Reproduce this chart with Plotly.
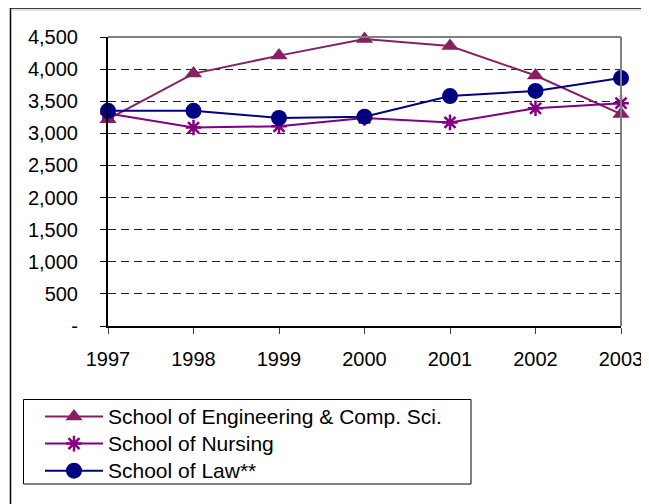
import plotly.graph_objects as go

years = [1997, 1998, 1999, 2000, 2001, 2002, 2003]
engineering = [3220, 3930, 4210, 4470, 4360, 3900, 3300]
nursing = [3310, 3090, 3110, 3240, 3170, 3390, 3470]
law = [3350, 3350, 3240, 3260, 3580, 3660, 3860]
series_names = ["School of Engineering & Comp. Sci.", "School of Nursing", "School of Law**"]
y_tickvals = [0, 500, 1000, 1500, 2000, 2500, 3000, 3500, 4000, 4500]
y_ticktext = ["-", "500", "1,000", "1,500", "2,000", "2,500", "3,000", "3,500", "4,000", "4,500"]

FONT = "Liberation Sans, Arial, sans-serif"
OFF = 8  # page body margin
W, H = 649 - OFF, 504 - OFF
L, R, T, B = 108 - OFF, 28, 37 - OFF, 178
pw, ph = W - L - R, H - T - B


def px(x):
    return (x - OFF - L) / pw


def py(y):
    return (H - B - (y - OFF)) / ph


def big(s):
    return '<span style="font-size:21px">' + s + '</span>'


fig = go.Figure()
fig.add_trace(go.Scatter(
    x=years, y=engineering, name=big(series_names[0]), mode="lines+markers",
    line=dict(color="#862063", width=2),
    marker=dict(symbol="triangle-up", size=15, color="#862063"),
    cliponaxis=False))
fig.add_trace(go.Scatter(
    x=years, y=nursing, name=big(series_names[1]), mode="lines+markers",
    line=dict(color="#800080", width=2),
    marker=dict(symbol="asterisk", size=13, color="#800080",
                line=dict(color="#800080", width=2.5)),
    cliponaxis=False))
fig.add_trace(go.Scatter(
    x=years, y=law, name=big(series_names[2]), mode="lines+markers",
    line=dict(color="#000080", width=2),
    marker=dict(symbol="circle", size=16, color="#000080"),
    cliponaxis=False))

shapes = [
    dict(type="rect", xref="paper", yref="paper",
         x0=px(10.5), x1=px(700), y0=py(8), y1=py(560),
         line=dict(color="black", width=1.5), layer="below"),
    dict(type="line", xref="paper", yref="paper",
         x0=px(11), x1=px(700), y0=py(10), y1=py(10),
         line=dict(color="#c8c8c8", width=1), layer="below"),
    dict(type="line", xref="paper", yref="paper", x0=0, x1=1, y0=1, y1=1,
         line=dict(color="#808080", width=2)),
    dict(type="line", xref="paper", yref="paper", x0=1, x1=1, y0=0, y1=1,
         line=dict(color="#808080", width=2)),
    dict(type="rect", xref="paper", yref="paper",
         x0=px(23.5), x1=px(471), y0=py(399.5), y1=py(484),
         line=dict(color="black", width=1)),
]

fig.update_layout(
    width=W, height=H,
    margin=dict(l=L, r=R, t=T, b=B, autoexpand=False),
    paper_bgcolor="white", plot_bgcolor="white",
    font=dict(family=FONT, size=20, color="black"),
    showlegend=True,
    legend=dict(x=px(40), y=py(398), xanchor="left", yanchor="top",
                font=dict(family=FONT, size=18.5, color="black"),
                bgcolor="rgba(0,0,0,0)", borderwidth=0,
                tracegroupgap=0, itemwidth=58),
    shapes=shapes,
)
fig.update_xaxes(
    range=[1997, 2003], tickvals=years, ticktext=[str(y) for y in years],
    showline=True, linecolor="black", linewidth=2,
    ticks="outside", ticklen=6, tickcolor="#404040", tickwidth=1,
    showgrid=False, zeroline=False, fixedrange=True, ticklabelstandoff=8,
    tickfont=dict(family=FONT, size=20, color="black"))
fig.update_yaxes(
    range=[0, 4500], tickvals=y_tickvals, ticktext=y_ticktext,
    showline=True, linecolor="black", linewidth=2,
    ticks="outside", ticklen=6, tickcolor="black", tickwidth=1,
    showgrid=True, gridcolor="#202020", gridwidth=1, griddash="8px,5px",
    zeroline=False, fixedrange=True, ticklabelstandoff=18,
    tickfont=dict(family=FONT, size=20, color="black"))

fig.write_html("out.html")
